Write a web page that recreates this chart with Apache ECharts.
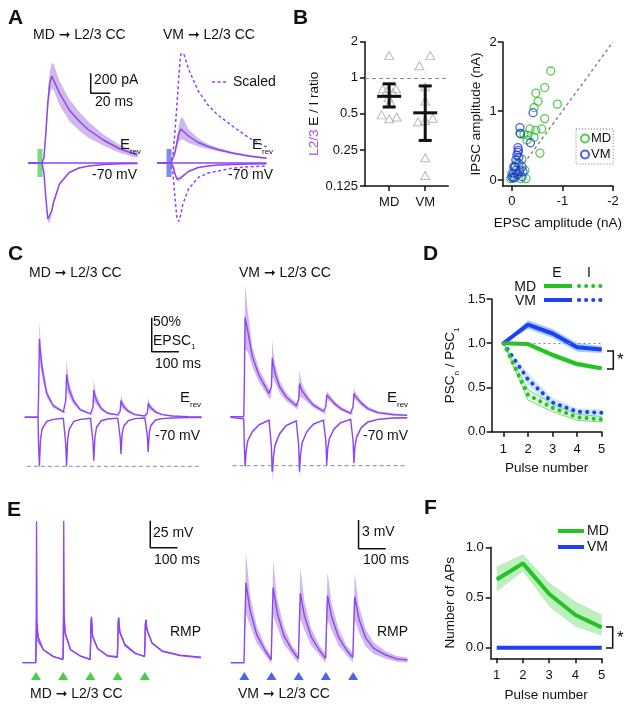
<!DOCTYPE html>
<html>
<head>
<meta charset="utf-8">
<title>MD / VM to L2/3 CC</title>
<script src="https://cdn.jsdelivr.net/npm/echarts@6.0.0/dist/echarts.min.js"></script>
<style>
  html, body { margin: 0; padding: 0; background: #fff; }
  #chart { width: 630px; height: 706px; }
</style>
</head>
<body>
<div id="chart"></div>
<script>
// ---------- A: averaged PSCs (ms, pA) ----------
const aTime = [-12, 2, 4, 6, 8, 10, 12, 14, 20, 30, 40, 50, 65, 82, 100]
const aMdErev = [0, 0, 50, 300, 600, 800, 870, 860, 700, 530, 420, 330, 230, 140, 80]
const aMdErevSem = [0, 0, 10, 40, 80, 110, 130, 130, 120, 110, 95, 80, 55, 40, 30]
const aMdHold = [0, 0, -100, -350, -560, -570, -480, -390, -210, -95, -50, -30, -15, -8, -5]
const aMdHoldSem = [0, 0, 5, 15, 25, 30, 28, 22, 12, 6, 4, 3, 2, 2, 2]
const aVmErev = [0, 0, 20, 100, 200, 290, 340, 345, 270, 205, 165, 135, 100, 70, 48]
const aVmErevSem = [0, 0, 5, 20, 45, 80, 110, 110, 70, 40, 25, 18, 12, 10, 8]
const aVmHold = [0, 0, -30, -100, -160, -170, -150, -130, -85, -45, -30, -20, -14, -10, -8]
const aVmHoldSem = [0, 0, 3, 8, 15, 18, 16, 14, 8, 5, 4, 3, 3, 3, 3]
const aVmErevScaled = [0, 0, 80, 300, 560, 850, 1080, 1130, 940, 720, 580, 480, 370, 250, 160]
const aVmHoldScaled = [0, 0, -100, -330, -540, -585, -520, -420, -260, -145, -100, -80, -52, -38, -30]

// ---------- B: E/I ratio (log2) and amplitudes (nA) ----------
const bGroups = ['MD', 'VM']
const bMdX = [1.0, 0.82, 1.19, 0.94, 1.1, 0.98, 1.03, 0.79, 1.0, 1.21]
const bMdRatio = [1.53, 0.81, 0.81, 0.775, 0.75, 0.68, 0.63, 0.49, 0.455, 0.47]
const bVmX = [2.14, 1.84, 2.0, 2.0, 1.8, 2.0, 2.21, 2.0, 2.0]
const bVmRatio = [1.53, 1.26, 0.84, 0.64, 0.43, 0.44, 0.46, 0.215, 0.153]
const bMean = [0.70, 0.51]
const bLow = [0.57, 0.30]
const bHigh = [0.89, 0.855]
const bMdEpsc = [-0.77, -0.65, -0.475, -0.52, -0.90, -0.44, -0.65, -0.36, -0.59, -0.475, -0.24, -0.32, -0.44, -0.30, -0.555, -0.16, -0.16, -0.28, -0.26, -0.07, 0.0, 0.02, -0.18, -0.1, -0.05, -0.12, -0.2]
const bMdIpsc = [1.58, 1.34, 1.26, 1.14, 1.10, 1.05, 0.89, 0.74, 0.74, 0.72, 0.66, 0.65, 0.62, 0.58, 0.39, 0.68, 0.145, 0.02, 0.14, 0.05, 0.1, 0.02, 0.02, 0.25, 0.2, 0.08, 0.3]
const bVmEpsc = [-0.42, -0.16, -0.17, -0.37, -0.12, -0.12, -0.14, -0.07, -0.035, -0.08, -0.15, -0.02, -0.05, -0.11, -0.14, -0.2, -0.2, -0.08, -0.22, 0, -0.04, -0.1, -0.13]
const bVmIpsc = [0.975, 0.76, 0.67, 0.54, 0.47, 0.40, 0.33, 0.19, 0.10, 0.14, 0.12, 0.03, 0.03, 0.08, 0.24, 0.19, 0.05, 0.29, 0.12, 0.05, 0.19, 0.36, 0.43]

// ---------- C: 10 Hz trains (ms, % EPSC1) ----------
const cTime = [-50,
  -1, 1, 4, 8, 14, 31, 55, 92,
  99, 101, 104, 108, 114, 131, 155, 192,
  199, 201, 204, 208, 214, 231, 255, 292,
  299, 301, 304, 308, 314, 331, 355, 392,
  399, 401, 404, 408, 414, 431, 455, 492,
  550, 600]
const cMdErev = [0, 0, 30, 115, 95, 72, 35, 17, 8, 7, 25, 63, 52, 40, 23, 11, 5, 4.5, 15, 40, 32, 25, 13, 6, 3.5, 3, 9, 24.5, 20, 16, 9, 4, 2, 2, 7, 20.6, 17, 14, 8, 4, 2, 1, 0.5]
const cMdErevSem = [0, 0, 5, 26, 20, 14, 6, 3, 1.5, 1.5, 5, 24, 16, 10, 5, 2, 1, 1, 4, 17, 11, 7, 3, 1.5, 1, 1, 2, 9, 7, 5, 2.5, 1.2, 0.8, 0.8, 2, 8, 6, 4, 2, 1, 0.5, 0.3, 0.2]
const cMdHold = [0, 0, -40, -72, -33, -17, -6, -3, -1.5, -1.5, -40, -72, -33, -17, -6, -3, -1.5, -1.5, -36, -64, -30, -15, -5, -2.5, -1.2, -1.2, -30, -54, -25, -13, -5, -2, -1, -1, -28, -51, -23, -12, -4, -2, -1, -0.5, -0.3]
const cMdHoldSem = [0, 0, 3, 5, 4, 2, 1, 0.5, 0.3, 0.3, 3, 5, 4, 2, 1, 0.5, 0.3, 0.3, 3, 5, 3, 2, 1, 0.5, 0.3, 0.3, 3, 4, 3, 2, 1, 0.5, 0.3, 0.3, 3, 4, 3, 2, 1, 0.5, 0.3, 0.2, 0.2]
const cVmErev = [0, 0, 40, 146, 138, 125, 88, 61, 34, 32, 45, 86, 76, 64, 44, 29, 16, 15, 25, 49, 43, 38, 28, 17, 8, 6, 15, 32, 30, 28, 20, 12, 5, 4.5, 15, 34, 31, 28, 20, 12, 6, 3, 2]
const cVmErevSem = [0, 0, 8, 48, 40, 30, 15, 10, 7, 6, 8, 29, 20, 14, 9, 6, 4, 4, 6, 21, 14, 10, 6, 4, 3, 3, 3, 6, 6, 5, 4, 3, 2, 2, 3, 8, 6, 5, 4, 3, 2, 2, 1.5]
const cVmHold = [-1, -3, -40, -73, -50, -35, -22, -12, -5, -5, -45, -90, -60, -42, -25, -13, -6, -6, -42, -83, -55, -38, -22, -11, -5, -5, -36, -71, -46, -32, -18, -9, -4, -4, -35, -68, -44, -30, -16, -8, -4, -2, -1.5]
const cVmHoldSem = [0.5, 0.5, 3, 6, 5, 3, 2, 1.5, 1, 1, 4, 8, 6, 4, 2.5, 1.5, 1, 1, 4, 7, 5, 3, 2, 1.5, 1, 1, 3, 6, 4, 3, 2, 1.5, 1, 1, 3, 6, 4, 3, 2, 1.5, 1, 1, 1]
const cEpsc1Level = -72

// ---------- D: paired-pulse ratios ----------
const pulses = [1, 2, 3, 4, 5]
const dMdE = [1.0, 0.99, 0.867, 0.765, 0.716]
const dMdESem = [0, 0.025, 0.03, 0.03, 0.025]
const dVmE = [1.0, 1.21, 1.11, 0.954, 0.93]
const dVmESem = [0, 0.05, 0.05, 0.05, 0.04]
const dMdI = [1.0, 0.415, 0.27, 0.163, 0.14]
const dMdISem = [0, 0.06, 0.045, 0.035, 0.03]
const dVmI = [1.0, 0.59, 0.33, 0.226, 0.215]
const dVmISem = [0, 0.07, 0.05, 0.04, 0.035]

// ---------- E: current clamp trains (ms, mV from RMP) ----------
const pulseTimes = [0, 100, 200, 300, 400]
const eTime = [-50,
  -1, 1, 2, 4, 8, 27, 64,
  99, 101, 102, 104, 108, 127, 164,
  199, 201, 202, 204, 208, 227, 264,
  299, 301, 302, 304, 308, 327, 364,
  399, 401, 402, 404, 408, 427, 464,
  530, 610]
const eMdSweep1 = [0, 0, 50, 131, 32, 20, 12, 5.6, 3, 50, 131.5, 34, 26, 12, 6, 3, 20, 36, 41.7, 25, 13, 6, 5, 20, 36, 41, 29, 17, 9, 5.5, 22, 35, 39.5, 30, 18, 11, 7, 5]
const eMdSweep2 = [0, 0, 15, 30, 36.5, 24, 12, 5.6, 3, 18, 35, 42.6, 27, 12, 6, 3, 20, 37, 42.5, 24, 13, 6.5, 5.5, 21, 37, 42, 28, 16, 8.5, 6, 23, 36, 40, 31, 18, 10.5, 6.5, 4.5]
const erTime = [-50,
  -1, 2, 6, 21, 46, 76,
  99, 102, 106, 121, 146, 176,
  199, 202, 206, 221, 246, 276,
  299, 302, 306, 321, 346, 376,
  399, 402, 406, 421, 446, 476,
  520, 560, 600]
const eVmMean = [0, 0, 4, 8.37, 5.5, 2.9, 1.3, 0.3, 4, 7.85, 5.2, 2.8, 1.3, 0.4, 3.8, 7.26, 4.9, 2.7, 1.3, 0.45, 3.7, 7.0, 4.8, 2.7, 1.3, 0.55, 3.6, 6.9, 4.6, 2.6, 1.5, 0.8, 0.4, 0.28]
const eVmSem = [0, 0.05, 1.5, 3.2, 1.6, 0.9, 0.5, 0.4, 1.4, 2.9, 1.5, 0.9, 0.5, 0.5, 1.3, 2.7, 1.5, 0.9, 0.5, 0.5, 1.3, 2.5, 1.4, 0.9, 0.5, 0.5, 1.2, 2.45, 1.4, 0.9, 0.6, 0.4, 0.3, 0.25]

// ---------- F: APs per pulse ----------
const fMdAP = [0.68, 0.84, 0.535, 0.326, 0.203]
const fMdAPLow = [0.56, 0.76, 0.41, 0.21, 0.12]
const fMdAPHigh = [0.81, 0.93, 0.65, 0.46, 0.33]
const fVmAP = [0, 0, 0, 0, 0]

// ---------- styles ----------
const FONT = '"Liberation Sans", Arial, "DejaVu Sans", sans-serif'
const INK = '#111'
const PURPLE = '#8e44f4'
const PURPLE_BAND = 'rgba(150, 100, 205, 0.45)'
const GREEN = '#22c322'
const GREEN_BAND = 'rgba(110, 220, 110, 0.45)'
const BLUE = '#1f3ff2'
const BLUE_BAND = 'rgba(80, 165, 255, 0.55)'

function zip(xs, ys) { return xs.map((x, i) => [x, ys[i]]) }

function trace(g, xs, ys, color, width, extra) {
  return Object.assign({
    type: 'line', xAxisIndex: g, yAxisIndex: g,
    data: zip(xs, ys), symbol: 'none', silent: true, z: 3,
    lineStyle: { color: color, width: width }
  }, extra || {})
}

// shaded band drawn as one polygon through the axis scales
function band(g, xs, lo, hi, color, stroke) {
  const rows = xs.map((x, i) => [x, lo[i], hi[i]])
  return {
    type: 'custom', xAxisIndex: g, yAxisIndex: g, silent: true, z: 2,
    data: rows, encode: { x: 0, y: [1, 2] },
    renderItem: function (params, api) {
      if (params.dataIndex !== 0) return
      const top = rows.map(r => api.coord([r[0], r[2]]))
      const bottom = rows.map(r => api.coord([r[0], r[1]])).reverse()
      return {
        type: 'polygon', shape: { points: top.concat(bottom) },
        style: { fill: color, stroke: stroke || null, lineWidth: stroke ? 0.8 : 0 }
      }
    }
  }
}
function semBand(g, xs, mean, sem, color, stroke) {
  return band(g, xs, mean.map((m, i) => m - sem[i]), mean.map((m, i) => m + sem[i]), color, stroke)
}

// trace panels: hidden axes, one px scale per panel
const grids = [
  { left: 20.5, top: 53, width: 136.5, height: 180 },   // 0 A MD
  { left: 149.5, top: 53, width: 136.5, height: 180 },  // 1 A VM
  { left: 365, top: 41.7, width: 83.3, height: 144.3 }, // 2 B ratio
  { left: 502.7, top: 42, width: 110.3, height: 144 },  // 3 B scatter
  { left: 24.7, top: 281.3, width: 176.8, height: 190.4 }, // 4 C MD
  { left: 230.4, top: 280.7, width: 176.8, height: 190.4 }, // 5 C VM
  { left: 491.7, top: 299, width: 110, height: 132.7 },  // 6 D
  { left: 22.4, top: 511.5, width: 176.8, height: 167.4 }, // 7 E MD
  { left: 230.7, top: 509.7, width: 176.8, height: 172.1 }, // 8 E VM
  { left: 490.7, top: 547.3, width: 111, height: 111 }   // 9 F
].map(g => Object.assign({ outerBoundsMode: 'none', containLabel: false }, g))

function hidden(min, max) { return { type: 'value', show: false, min: min, max: max, splitLine: { show: false } } }

const axisLine = { onZero: false, lineStyle: { color: INK, width: 1.5 } }
const axisTick = { length: 5, lineStyle: { color: INK, width: 1.5 } }
const labelStyle = { color: INK, fontSize: 13, fontFamily: FONT }
const nameStyle = { color: INK, fontSize: 13.5, fontFamily: FONT }

const xAxes = [
  hidden(-20, 120), hidden(-20, 120),
  { type: 'value', min: 0.33, max: 2.64, axisLine: axisLine,
    axisTick: Object.assign({ customValues: [1, 2] }, axisTick),
    axisLabel: Object.assign({ customValues: [1, 2], margin: 10, formatter: v => bGroups[Math.round(v) - 1] }, labelStyle),
    splitLine: { show: false } },
  { type: 'value', inverse: true, min: -2, max: 0.18, axisLine: axisLine,
    axisTick: Object.assign({ customValues: [0, -1, -2] }, axisTick),
    axisLabel: Object.assign({ customValues: [0, -1, -2], margin: 9 }, labelStyle),
    splitLine: { show: false },
    name: 'EPSC amplitude (nA)', nameLocation: 'middle', nameGap: 30, nameTextStyle: nameStyle },
  hidden(-50, 600), hidden(-50, 600),
  { type: 'value', min: 0.52, max: 5, axisLine: axisLine,
    axisTick: Object.assign({ customValues: pulses }, axisTick),
    axisLabel: Object.assign({ customValues: pulses, margin: 11 }, labelStyle),
    splitLine: { show: false },
    name: 'Pulse number', nameLocation: 'middle', nameGap: 30, nameTextStyle: nameStyle },
  hidden(-50, 600), hidden(-50, 600),
  { type: 'value', min: 0.77, max: 5, axisLine: axisLine,
    axisTick: Object.assign({ customValues: pulses }, axisTick),
    axisLabel: Object.assign({ customValues: pulses, margin: 11 }, labelStyle),
    splitLine: { show: false },
    name: 'Pulse number', nameLocation: 'middle', nameGap: 30, nameTextStyle: nameStyle }
].map((a, i) => Object.assign({ gridIndex: i }, a))

const subRich = {
  t: { fontSize: 13.5, fontFamily: FONT, color: INK, lineHeight: 20 },
  s: { fontSize: 8, fontFamily: FONT, color: INK, verticalAlign: 'bottom' },
  p: { fontSize: 13.5, fontFamily: FONT, color: '#9a55ee', lineHeight: 20 }
}

const yAxes = [
  hidden(-700, 1100), hidden(-700, 1100),
  { type: 'log', logBase: 2, min: 0.125, max: 2, axisLine: axisLine, axisTick: axisTick,
    axisLabel: Object.assign({ margin: 7 }, labelStyle), splitLine: { show: false },
    name: '{p|L2/3}{t| E / I ratio}', nameLocation: 'middle', nameGap: 38,
    nameTextStyle: { rich: subRich } },
  { type: 'value', min: -0.087, max: 2, axisLine: axisLine,
    axisTick: Object.assign({ customValues: [0, 1, 2] }, axisTick),
    axisLabel: Object.assign({ customValues: [0, 1, 2], margin: 6 }, labelStyle),
    splitLine: { show: false },
    name: 'IPSC amplitude (nA)', nameLocation: 'middle', nameGap: 19, nameTextStyle: nameStyle },
  hidden(-80, 200), hidden(-80, 200),
  { type: 'value', min: 0, max: 1.5, interval: 0.5, axisLine: axisLine, axisTick: axisTick,
    axisLabel: Object.assign({ margin: 6, formatter: v => v.toFixed(1) }, labelStyle),
    splitLine: { show: false },
    name: '{t|PSC}{s|n}{t| / PSC}{s|1}', nameLocation: 'middle', nameGap: 31,
    nameTextStyle: { rich: subRich } },
  hidden(-15, 140), hidden(-2, 16),
  { type: 'value', min: -0.105, max: 1, axisLine: axisLine,
    axisTick: Object.assign({ customValues: [0, 0.5, 1] }, axisTick),
    axisLabel: Object.assign({ customValues: [0, 0.5, 1], margin: 7, formatter: v => v.toFixed(1) }, labelStyle),
    splitLine: { show: false },
    name: 'Number of APs', nameLocation: 'middle', nameGap: 33, nameTextStyle: nameStyle }
].map((a, i) => Object.assign({ gridIndex: i }, a))

const scaleBar = { color: INK, width: 1.5 }
const dashed = { color: PURPLE, width: 1.5, type: [3, 2.5] }
const dotted = { width: 4, type: [0.1, 7], cap: 'round' }

const series = [
  // A: MD
  trace(0, [0, 0], [-140, 140], '#78dc78', 5, { z: 1 }),
  semBand(0, aTime, aMdErev, aMdErevSem, PURPLE_BAND),
  semBand(0, aTime, aMdHold, aMdHoldSem, PURPLE_BAND),
  trace(0, [-12, 100], [0, 0], PURPLE, 1.5),
  trace(0, aTime, aMdErev, PURPLE, 1.5),
  trace(0, aTime, aMdHold, PURPLE, 1.5),
  trace(0, [52, 52, 72], [897, 697, 697], scaleBar.color, scaleBar.width),
  // A: VM
  trace(1, [0, 0], [-140, 140], '#7c8de8', 5, { z: 1 }),
  semBand(1, aTime, aVmErev, aVmErevSem, PURPLE_BAND),
  semBand(1, aTime, aVmHold, aVmHoldSem, PURPLE_BAND),
  trace(1, [-12, 100], [0, 0], PURPLE, 1.5),
  trace(1, aTime, aVmErev, PURPLE, 1.5),
  trace(1, aTime, aVmHold, PURPLE, 1.5),
  trace(1, aTime, aVmErevScaled, PURPLE, 1.5, { lineStyle: dashed }),
  trace(1, aTime, aVmHoldScaled, PURPLE, 1.5, { lineStyle: dashed }),

  // B: E/I ratio
  { type: 'scatter', xAxisIndex: 2, yAxisIndex: 2, data: zip(bMdX, bMdRatio), symbol: 'triangle', symbolSize: [9, 8],
    itemStyle: { color: 'transparent', borderColor: '#a8a8a8', borderWidth: 1 }, silent: true,
    markLine: { silent: true, symbol: 'none', label: { show: false },
      lineStyle: { color: '#888', type: [4, 3], width: 1 }, data: [{ yAxis: 1 }] } },
  { type: 'scatter', xAxisIndex: 2, yAxisIndex: 2, data: zip(bVmX, bVmRatio), symbol: 'triangle', symbolSize: [9, 8],
    itemStyle: { color: 'transparent', borderColor: '#a8a8a8', borderWidth: 1 }, silent: true },
  { type: 'custom', xAxisIndex: 2, yAxisIndex: 2, silent: true, z: 5,
    data: bGroups.map((g, i) => [i + 1, bMean[i], bLow[i], bHigh[i]]),
    encode: { x: 0, y: [1, 2, 3] },
    renderItem: function (params, api) {
      const x = api.value(0)
      const m = api.coord([x, api.value(1)])
      const lo = api.coord([x, api.value(2)])
      const hi = api.coord([x, api.value(3)])
      const st = { stroke: INK, lineWidth: 3 }
      return { type: 'group', children: [
        { type: 'line', shape: { x1: m[0], y1: hi[1], x2: m[0], y2: lo[1] }, style: st },
        { type: 'line', shape: { x1: m[0] - 12, y1: m[1], x2: m[0] + 12, y2: m[1] }, style: st },
        { type: 'line', shape: { x1: m[0] - 6.5, y1: hi[1], x2: m[0] + 6.5, y2: hi[1] }, style: st },
        { type: 'line', shape: { x1: m[0] - 6.5, y1: lo[1], x2: m[0] + 6.5, y2: lo[1] }, style: st }
      ] }
    } },
  // B: amplitudes
  { name: 'MD', type: 'scatter', xAxisIndex: 3, yAxisIndex: 3, data: zip(bMdEpsc, bMdIpsc), symbol: 'circle', symbolSize: 8,
    itemStyle: { color: 'transparent', borderColor: '#2bbd2b', borderWidth: 1.3 },
    markLine: { silent: true, symbol: 'none', label: { show: false },
      lineStyle: { color: '#888', type: [3, 3], width: 1.5 },
      data: [[{ coord: [-0.1, 0.1] }, { coord: [-2, 2] }]] } },
  { name: 'VM', type: 'scatter', xAxisIndex: 3, yAxisIndex: 3, data: zip(bVmEpsc, bVmIpsc), symbol: 'circle', symbolSize: 8,
    itemStyle: { color: 'transparent', borderColor: '#2038e0', borderWidth: 1.3 } },

  // C: MD
  semBand(4, cTime, cMdErev, cMdErevSem, PURPLE_BAND),
  semBand(4, cTime, cMdHold, cMdHoldSem, PURPLE_BAND),
  trace(4, cTime, cMdErev, PURPLE, 1.4),
  trace(4, cTime, cMdHold, PURPLE, 1.4),
  trace(4, [-42, 598], [cEpsc1Level, cEpsc1Level], '#888', 1, { lineStyle: { color: '#888', width: 1, type: [4, 3] } }),
  trace(4, [417, 417, 517], [146.5, 96.5, 96.5], scaleBar.color, scaleBar.width),
  // C: VM
  semBand(5, cTime, cVmErev, cVmErevSem, PURPLE_BAND),
  semBand(5, cTime, cVmHold, cVmHoldSem, PURPLE_BAND),
  trace(5, cTime, cVmErev, PURPLE, 1.4),
  trace(5, cTime, cVmHold, PURPLE, 1.4),
  trace(5, [-42, 600], [cEpsc1Level, cEpsc1Level], '#888', 1, { lineStyle: { color: '#888', width: 1, type: [4, 3] } }),

  // D
  semBand(6, pulses, dVmE, dVmESem, BLUE_BAND),
  semBand(6, pulses, dMdE, dMdESem, GREEN_BAND),
  semBand(6, pulses, dVmI, dVmISem, 'rgba(120, 190, 255, 0.35)'),
  semBand(6, pulses, dMdI, dMdISem, 'rgba(150, 230, 150, 0.3)', '#5ad65a'),
  trace(6, pulses, dVmE, BLUE, 4, { markLine: { silent: true, symbol: 'none', label: { show: false },
    lineStyle: { color: '#888', type: [2, 3], width: 1.2 }, data: [[{ coord: [1, 1] }, { coord: [5, 1] }]] } }),
  trace(6, pulses, dMdE, GREEN, 4),
  trace(6, pulses, dVmI, BLUE, 4, { lineStyle: Object.assign({ color: BLUE }, dotted) }),
  trace(6, pulses, dMdI, GREEN, 4, { lineStyle: Object.assign({ color: GREEN }, dotted) }),

  // E: MD
  trace(7, eTime, eMdSweep2, PURPLE, 1.3),
  trace(7, eTime, eMdSweep1, PURPLE, 1.3),
  trace(7, [420, 420, 520], [131.5, 106.5, 106.5], scaleBar.color, scaleBar.width),
  { type: 'scatter', xAxisIndex: 7, yAxisIndex: 7, data: zip(pulseTimes, pulseTimes.map(() => -12.3)),
    symbol: 'triangle', symbolSize: [10, 8], itemStyle: { color: '#1cc01c' }, silent: true },
  // E: VM
  semBand(8, erTime, eVmMean, eVmSem, PURPLE_BAND),
  trace(8, erTime, eVmMean, PURPLE, 1.4),
  trace(8, [420, 420, 520], [14.92, 11.92, 11.92], scaleBar.color, scaleBar.width),
  { type: 'scatter', xAxisIndex: 8, yAxisIndex: 8, data: zip(pulseTimes, pulseTimes.map(() => -1.39)),
    symbol: 'triangle', symbolSize: [10, 8], itemStyle: { color: '#1f3fe6' }, silent: true },

  // F
  band(9, pulses, fMdAPLow, fMdAPHigh, GREEN_BAND),
  trace(9, pulses, fMdAP, GREEN, 4),
  trace(9, pulses, fVmAP, BLUE, 4)
]

// text, legends and brackets
function txt(x, y, text, opt) {
  opt = opt || {}
  return { type: 'text', x: x, y: y, silent: true, z: 10,
    style: { text: text, fill: opt.color || INK, align: opt.align || 'left', verticalAlign: 'middle',
      font: (opt.bold ? 'bold ' : '') + (opt.size || 14) + 'px ' + FONT, rich: opt.rich } }
}
function seg(points, color, width, dash) {
  return { type: 'polyline', silent: true, z: 10, shape: { points: points },
    style: { stroke: color, lineWidth: width, fill: null, lineDash: dash || null, lineCap: dash && dash[0] < 1 ? 'round' : 'butt' } }
}
const erevRich = { E: { fontSize: 15, fontFamily: FONT, lineHeight: 22, fill: INK }, s: { fontSize: 8, fontFamily: FONT, verticalAlign: 'bottom', fill: INK } }
const subText = { t: { fontSize: 14, fontFamily: FONT, lineHeight: 20, fill: INK }, s: { fontSize: 8, fontFamily: FONT, verticalAlign: 'bottom', fill: INK } }
const ARROW = ' \u279E '

const graphics = [
  txt(8, 18, 'A', { bold: true, size: 21 }), txt(293, 18, 'B', { bold: true, size: 21 }),
  txt(8, 254, 'C', { bold: true, size: 21 }), txt(423, 254, 'D', { bold: true, size: 21 }),
  txt(7, 510, 'E', { bold: true, size: 21 }), txt(424, 508, 'F', { bold: true, size: 21 }),
  txt(33, 35, 'MD' + ARROW + 'L2/3 CC'), txt(163, 35, 'VM' + ARROW + 'L2/3 CC'),
  txt(29, 273, 'MD' + ARROW + 'L2/3 CC'), txt(239, 273, 'VM' + ARROW + 'L2/3 CC'),
  txt(30, 694, 'MD' + ARROW + 'L2/3 CC'), txt(238, 694, 'VM' + ARROW + 'L2/3 CC'),
  // A
  txt(94, 80, '200 pA'), txt(95, 102, '20 ms'),
  txt(120, 145, '{E|E}{s|rev}', { rich: erevRich }), txt(92, 175, '-70 mV'),
  txt(252, 145, '{E|E}{s|rev}', { rich: erevRich }), txt(228, 175, '-70 mV'),
  seg([[212, 82], [228, 82]], PURPLE, 1.5, [3, 2.5]), txt(233, 82, 'Scaled'),
  // C
  txt(153, 322, '50%'), txt(153, 341, '{t|EPSC}{s|1}', { rich: subText }), txt(155, 364, '100 ms'),
  txt(180, 398, '{E|E}{s|rev}', { rich: erevRich }), txt(155, 436, '-70 mV'),
  txt(387, 398, '{E|E}{s|rev}', { rich: erevRich }), txt(363, 436, '-70 mV'),
  // E
  txt(153, 533, '25 mV'), txt(154, 560, '100 ms'), txt(170, 632, 'RMP'),
  txt(362, 532, '3 mV'), txt(363, 560, '100 ms'), txt(377, 632, 'RMP'),
  // D legend and bracket
  txt(557, 273, 'E', { align: 'center' }), txt(589, 273, 'I', { align: 'center' }),
  txt(536, 287, 'MD', { align: 'right' }), txt(536, 301, 'VM', { align: 'right' }),
  seg([[544, 286], [572, 286]], GREEN, 4), seg([[579, 286], [602, 286]], GREEN, 4, [0.1, 7]),
  seg([[544, 300], [572, 300]], BLUE, 4), seg([[579, 300], [602, 300]], BLUE, 4, [0.1, 7]),
  seg([[607, 351], [613.3, 351], [613.3, 369], [607, 369]], INK, 1.5), txt(617, 360, '*', { size: 17 }),
  // F legend and bracket
  seg([[558, 531], [584, 531]], GREEN, 4), txt(587, 531, 'MD'),
  seg([[558, 547], [584, 547]], BLUE, 4), txt(587, 547, 'VM'),
  seg([[606, 627], [612.7, 627], [612.7, 648], [606, 648]], INK, 1.5), txt(617, 638, '*', { size: 17 })
]

const chart = echarts.init(document.getElementById('chart'))
chart.setOption({
  animation: false,
  backgroundColor: '#fff',
  textStyle: { fontFamily: FONT },
  grid: grids,
  xAxis: xAxes,
  yAxis: yAxes,
  legend: {
    data: ['MD', 'VM'], orient: 'vertical', left: 576, top: 129, width: 37,
    icon: 'circle', itemWidth: 8, itemHeight: 8, itemGap: 3,
    padding: [3, 2, 3, 4], borderColor: '#777', borderWidth: 1, borderType: [1, 2],
    textStyle: { fontSize: 13, fontFamily: FONT, color: INK, padding: [0, 0, 0, -3] },
    selectedMode: false
  },
  series: series,
  graphic: graphics
})
</script>
</body>
</html>
